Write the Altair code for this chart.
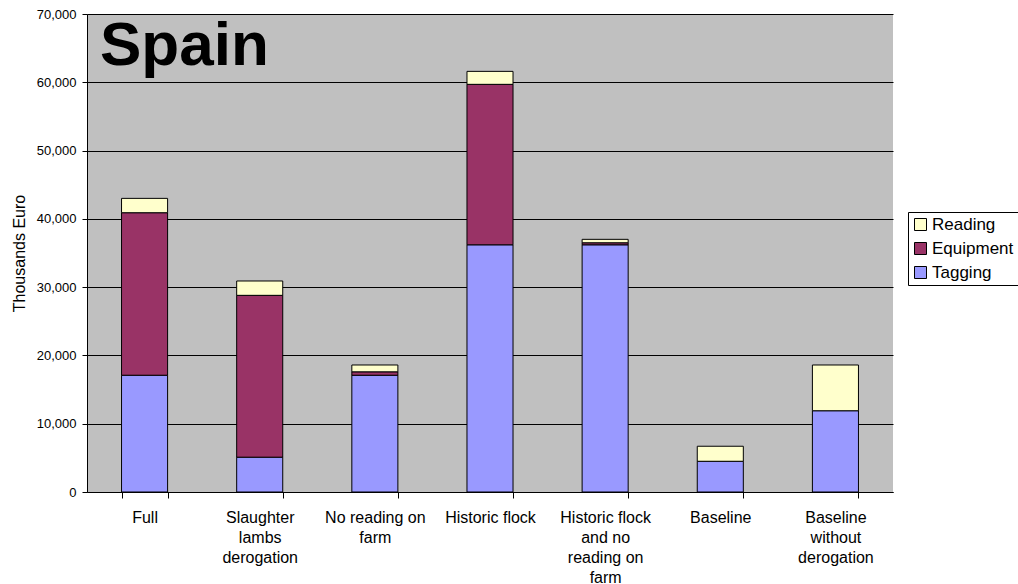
import altair as alt
import pandas as pd

categories = ["Full", "Slaughter\nlambs\nderogation", "No reading on\nfarm", "Historic flock",
              "Historic flock\nand no\nreading on\nfarm", "Baseline", "Baseline\nwithout\nderogation"]
tagging = [17100, 5100, 17100, 36200, 36200, 4500, 11900]
equipment = [23800, 23700, 500, 23500, 300, 0, 0]
reading = [2100, 2100, 1000, 1900, 500, 2200, 6700]
series = ["Reading", "Equipment", "Tagging"]
colors = ["#FFFFCC", "#993366", "#9999FF"]

rows = []
for i, c in enumerate(categories):
    for s, vals, o in [("Tagging", tagging, 0), ("Equipment", equipment, 1), ("Reading", reading, 2)]:
        if vals[i] > 0:
            rows.append({"cat": c, "series": s, "value": vals[i], "ord": o})
df = pd.DataFrame(rows)

W, H = 806, 478

bars = alt.Chart(df).mark_bar(stroke="black", strokeWidth=1).encode(
    x=alt.X("cat:N", sort=categories, title=None,
            scale=alt.Scale(paddingInner=0.6, paddingOuter=0.3),
            axis=alt.Axis(labelExpr="split(datum.label, '\\n')", labelAngle=0,
                          labelFont="Liberation Sans", labelFontSize=16, labelColor="black",
                          labelLineHeight=20, labelPadding=11, labelBaseline="top",
                          tickBand="extent", tickColor="black", tickSize=6, tickWidth=1,
                          domainColor="black", grid=False)),
    y=alt.Y("value:Q", title="Thousands Euro",
            scale=alt.Scale(domain=[0, 70000], nice=False),
            axis=alt.Axis(values=list(range(0, 70001, 10000)), format=",d",
                          labelFont="Liberation Sans", labelFontSize=13, labelColor="black",
                          labelPadding=6,
                          titleFont="Liberation Sans", titleFontSize=16, titleFontWeight="normal",
                          titleColor="black", titlePadding=9,
                          tickColor="black", tickSize=5, domainColor="black",
                          grid=True, gridColor="black", gridWidth=1)),
    color=alt.Color("series:N", scale=alt.Scale(domain=series, range=colors),
                    legend=alt.Legend(title=None, orient="none", legendX=821, legendY=198,
                                      symbolType="square", symbolStrokeColor="black",
                                      symbolStrokeWidth=1, symbolSize=144,
                                      labelFont="Liberation Sans", labelFontSize=17,
                                      labelColor="black", rowPadding=6, labelOffset=3,
                                      strokeColor="black", fillColor="white",
                                      padding=4)),
    order=alt.Order("ord:Q", sort="ascending"),
)

title = alt.Chart(pd.DataFrame({"t": ["Spain"]})).mark_text(
    text="Spain", font="Liberation Sans", fontSize=62, fontWeight="bold",
    align="left", baseline="alphabetic", color="black"
).encode(x=alt.value(13), y=alt.value(51))

chart = alt.layer(bars, title).properties(
    width=W, height=H,
    autosize=alt.AutoSizeParams(type="none"),
    padding={"left": 87, "top": 14, "right": 125, "bottom": 92},
    background="white",
).configure_view(fill="#C0C0C0", stroke=None)

chart.save("out.html", embed_options={"renderer": "svg", "actions": False})
